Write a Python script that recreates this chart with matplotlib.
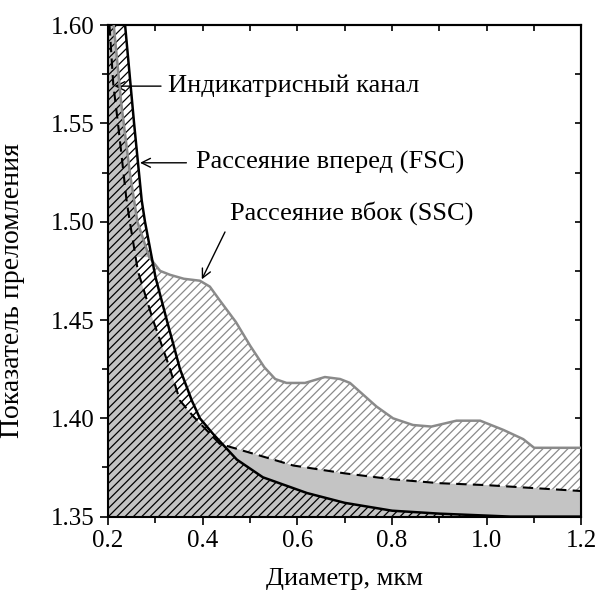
import matplotlib
matplotlib.use("Agg")
import matplotlib.pyplot as plt
import numpy as np
from matplotlib.ticker import MultipleLocator

plt.rcParams["font.family"] = ["Liberation Serif", "DejaVu Serif"]
plt.rcParams["hatch.linewidth"] = 0.9

# Forward scatter (FSC) boundary, solid black
fsc_d = [0.236, 0.255, 0.271, 0.278, 0.300, 0.324, 0.352, 0.377, 0.394, 0.422,
         0.472, 0.527, 0.620, 0.70, 0.80, 0.90, 1.00, 1.05, 1.20]
fsc_n = [1.600, 1.550, 1.511, 1.500, 1.472, 1.450, 1.425, 1.409, 1.400, 1.392,
         1.379, 1.370, 1.362, 1.357, 1.353, 1.3515, 1.3505, 1.350, 1.350]

# Indicatrix channel boundary, dashed black
ind_d = [0.203, 0.211, 0.221, 0.239, 0.246, 0.263, 0.295, 0.331, 0.352, 0.380,
         0.436, 0.507, 0.591, 0.70, 0.80, 0.90, 1.00, 1.10, 1.20]
ind_n = [1.600, 1.570, 1.550, 1.511, 1.500, 1.475, 1.450, 1.425, 1.409, 1.401,
         1.387, 1.382, 1.376, 1.372, 1.369, 1.367, 1.366, 1.3645, 1.363]

# Side scatter (SSC) boundary, gray
ssc_d = [0.212, 0.228, 0.246, 0.262, 0.287, 0.310, 0.331, 0.360, 0.394, 0.415,
         0.436, 0.470, 0.500, 0.530, 0.553, 0.577, 0.616, 0.658, 0.690, 0.711,
         0.767, 0.802, 0.844, 0.883, 0.936, 0.986, 1.035, 1.077, 1.100, 1.200]
ssc_n = [1.600, 1.560, 1.525, 1.500, 1.482, 1.475, 1.473, 1.471, 1.470, 1.467,
         1.460, 1.449, 1.437, 1.426, 1.420, 1.418, 1.418, 1.421, 1.420, 1.418,
         1.406, 1.400, 1.3966, 1.3958, 1.3988, 1.3988, 1.3941, 1.3894, 1.385, 1.385]

x_ticks = [0.2, 0.4, 0.6, 0.8, 1.0, 1.2]
y_ticks = [1.35, 1.40, 1.45, 1.50, 1.55, 1.60]

y0 = 1.35
y_top = 1.60

fig = plt.figure(figsize=(5.97, 6.0), dpi=100)
ax = fig.add_axes([0.181, 0.139, 0.793, 0.819])

# SSC region: gray hatch on white
ax.fill_between(ssc_d, y0, ssc_n, facecolor="white", edgecolor="#8a8a8a",
                hatch="////", linewidth=0, zorder=1)
# indicatrix region: gray fill (extended to the left edge)
ax.fill_between([0.2] + ind_d, y0, [y_top] + ind_n, facecolor="#c4c4c4",
                edgecolor="none", linewidth=0, zorder=2)
# upper part: gray strip between dashed and SSC curves
yy = np.linspace(ssc_n[4], y_top, 60)
x_ind = np.interp(yy, ind_n[::-1], ind_d[::-1])
x_ssc = np.interp(yy, ssc_n[4::-1], ssc_d[4::-1])
ax.fill_betweenx(yy, x_ind, x_ssc, where=x_ssc > x_ind, facecolor="#c4c4c4",
                 edgecolor="none", linewidth=0, zorder=2)
# FSC region: black hatch
ax.fill_between([0.2] + fsc_d, y0, [y_top] + fsc_n, facecolor="none",
                edgecolor="black", hatch="////", linewidth=0, zorder=3)

ax.plot(ssc_d, ssc_n, color="#8a8a8a", lw=1.8, zorder=4)
ax.plot(ind_d, ind_n, color="black", lw=1.5, ls=(0, (5, 3)), zorder=5)
ax.plot(fsc_d, fsc_n, color="black", lw=1.8, zorder=6)

ax.set_xlim(0.2, 1.2)
ax.set_ylim(y0, y_top)
ax.set_xticks(x_ticks)
ax.set_yticks(y_ticks)
ax.set_xticklabels([f"{v:.1f}" for v in x_ticks])
ax.set_yticklabels([f"{v:.2f}" for v in y_ticks])
ax.xaxis.set_minor_locator(MultipleLocator(0.1))
ax.yaxis.set_minor_locator(MultipleLocator(0.025))
ax.tick_params(which="both", direction="out", top=False, right=False, labelsize=18)
ax.tick_params(which="major", length=6, width=1.2)
ax.tick_params(which="minor", length=4, width=1.2)
ax2 = ax.secondary_xaxis("top")
ax2.set_xticks(np.arange(0.2, 1.21, 0.1))
ax2.tick_params(direction="in", length=4, width=1.2, labeltop=False)
ax3 = ax.secondary_yaxis("right")
ax3.set_yticks(np.arange(1.35, 1.601, 0.025))
ax3.tick_params(direction="in", length=4, width=1.2, labelright=False)
for a in (ax, ax2, ax3):
    for s in a.spines.values():
        s.set_linewidth(1.5)

ax.set_xlabel("Диаметр, мкм", fontsize=19, labelpad=12)
ax.set_ylabel("Показатель преломления", fontsize=20)
ax.yaxis.set_label_coords(-0.175, 0.461)

ax.annotate("Индикатрисный канал", xy=(0.2135, 1.569), xytext=(0.3265, 1.569),
            fontsize=19, va="center", ha="left",
            arrowprops=dict(arrowstyle="->", color="black", lw=1.0,
                            shrinkA=3, shrinkB=0, mutation_scale=16))
ax.annotate("Рассеяние вперед (FSC)", xy=(0.2675, 1.530), xytext=(0.386, 1.530),
            fontsize=19, va="center", ha="left",
            arrowprops=dict(arrowstyle="->", color="black", lw=1.0,
                            shrinkA=5, shrinkB=0, mutation_scale=16))
ax.text(0.458, 1.5045, "Рассеяние вбок (SSC)", fontsize=19, va="center", ha="left")
ax.annotate("", xy=(0.398, 1.4707), xytext=(0.447, 1.4948),
            arrowprops=dict(arrowstyle="->", color="black", lw=1.0,
                            shrinkA=0, shrinkB=0, mutation_scale=16))

fig.savefig("out.png", dpi=100)
